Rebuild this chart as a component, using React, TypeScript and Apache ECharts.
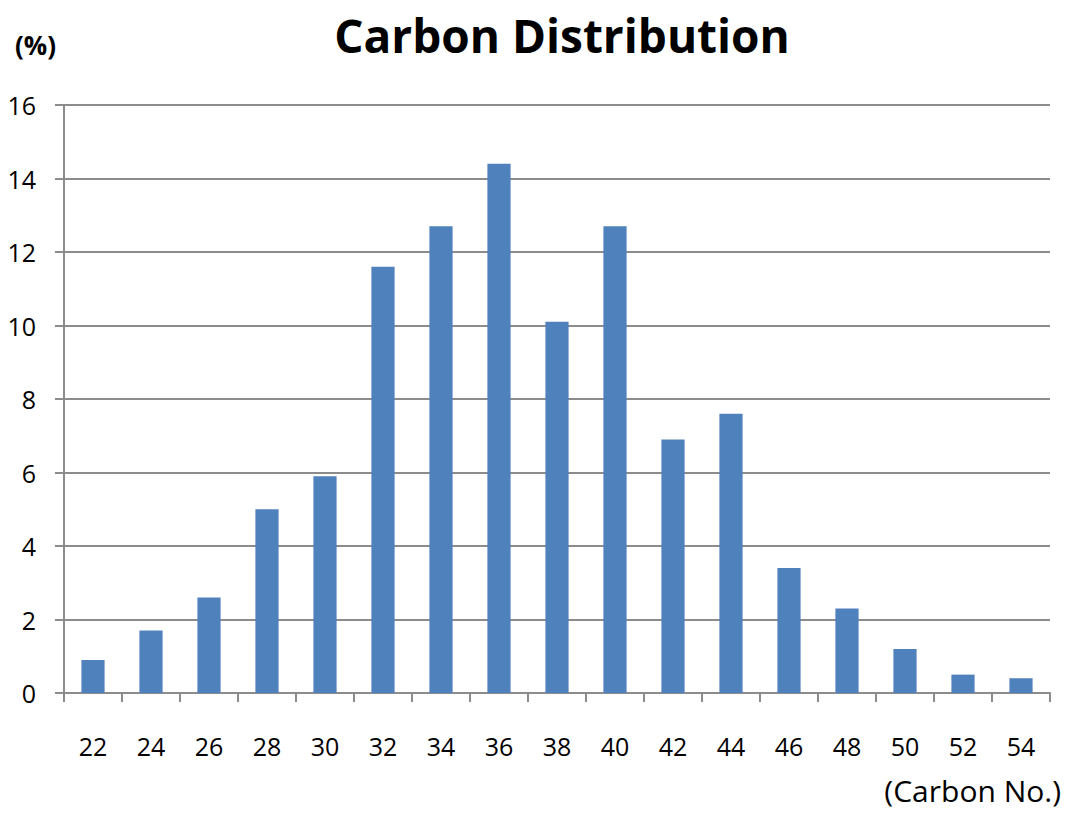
import React, { useEffect, useRef } from "react";
import * as echarts from "echarts";

const categories = ["22", "24", "26", "28", "30", "32", "34", "36", "38", "40", "42", "44", "46", "48", "50", "52", "54"];
const values = [0.9, 1.7, 2.6, 5.0, 5.9, 11.6, 12.7, 14.4, 10.1, 12.7, 6.9, 7.6, 3.4, 2.3, 1.2, 0.5, 0.4];
const titleText = "Carbon Distribution";
const yUnit = "(%)";
const xUnit = "(Carbon No.)";

const FONT = "'Open Sans', 'Noto Sans', sans-serif";
const GRID_COLOR = "#8c8c8c";

export default function App() {
  const ref = useRef<HTMLDivElement>(null);
  useEffect(() => {
    if (!ref.current) return;
    const chart = echarts.init(ref.current, undefined, { renderer: "svg" });
    chart.setOption({
      animation: false,
      backgroundColor: "#ffffff",
      title: {
        text: titleText,
        left: 557,
        textAlign: "center",
        top: 7,
        textStyle: { fontFamily: FONT, fontSize: 46, fontWeight: "bold", color: "#000" },
      },
      graphic: [
        {
          type: "text",
          left: 15,
          top: 32,
          style: { text: yUnit, fontFamily: FONT, fontSize: 26, fontWeight: "bold", fill: "#000" },
        },
        {
          type: "text",
          right: 5,
          top: 775,
          style: { text: xUnit, fontFamily: FONT, fontSize: 30, fill: "#000" },
        },
      ],
      grid: { left: 64, right: 16, top: 105, bottom: 122, containLabel: false },
      xAxis: {
        type: "category",
        data: categories,
        axisLine: { show: true, lineStyle: { color: GRID_COLOR, width: 2 } },
        axisTick: { show: true, alignWithLabel: false, length: 9, lineStyle: { color: GRID_COLOR, width: 2 } },
        axisLabel: { fontFamily: FONT, fontSize: 25, color: "#000", margin: 40, interval: 0 },
        splitLine: { show: false },
      },
      yAxis: {
        type: "value",
        min: 0,
        max: 16,
        interval: 2,
        axisLine: { show: true, lineStyle: { color: GRID_COLOR, width: 2 } },
        axisTick: { show: true, length: 9, lineStyle: { color: GRID_COLOR, width: 2 } },
        axisLabel: { fontFamily: FONT, fontSize: 25, color: "#000", margin: 28 },
        splitLine: { show: true, lineStyle: { color: GRID_COLOR, width: 2 } },
      },
      series: [
        {
          type: "bar",
          data: values,
          barWidth: "40%",
          itemStyle: { color: "#4F81BD" },
        },
      ],
    });
    return () => chart.dispose();
  }, []);
  return (
    <div
      ref={ref}
      style={{ position: "fixed", left: 0, top: 0, width: 1066, height: 815, background: "#fff" }}
    />
  );
}
